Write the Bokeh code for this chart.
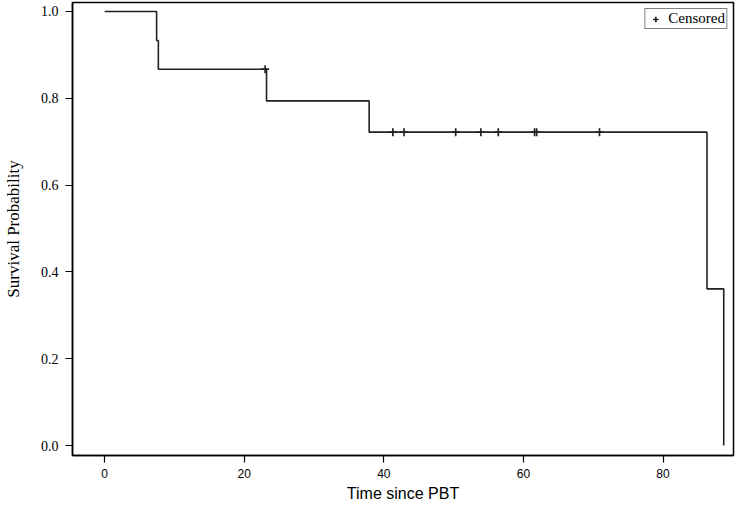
from bokeh.plotting import figure
from bokeh.models import FixedTicker, Range1d, Legend, LegendItem, PrintfTickFormatter
from bokeh.embed import file_html
from bokeh.resources import INLINE

# Kaplan-Meier step curve (time, survival probability)
step_times = [0.0, 7.45, 7.7, 23.2, 37.9, 86.3, 88.7]
step_surv = [1.0, 0.933, 0.867, 0.794, 0.722, 0.361, 0.0]

# Censored observations
cens_times = [23.0, 41.3, 42.9, 50.3, 53.9, 56.4, 61.6, 61.9, 70.9]
cens_surv = [0.867, 0.722, 0.722, 0.722, 0.722, 0.722, 0.722, 0.722, 0.722]

x_ticks = [0, 20, 40, 60, 80]
y_ticks = [0.0, 0.2, 0.4, 0.6, 0.8, 1.0]

p = figure(frame_width=661, frame_height=453, output_backend="svg", toolbar_location=None,
           x_range=Range1d(-4.6, 90.1), y_range=Range1d(-0.023, 1.0207),
           min_border_left=68, min_border_right=2, min_border_top=2, min_border_bottom=50)

line_col = "#222222"
p.step(step_times, step_surv, mode="after", line_color=line_col, line_width=1.6)
cr = p.scatter(cens_times, cens_surv, marker="cross", size=8, line_color=line_col, line_width=1.7)

p.grid.visible = False
p.background_fill_color = "white"
p.border_fill_color = "white"
p.outline_line_color = "black"
p.outline_line_width = 1.5

xa = p.xaxis[0]
xa.ticker = FixedTicker(ticks=x_ticks)
xa.axis_label = "Time since PBT"
xa.axis_label_text_font = "Liberation Sans"
xa.axis_label_text_font_size = "16px"
xa.axis_label_text_font_style = "normal"
xa.axis_label_text_color = "black"
xa.axis_label_standoff = 4
xa.major_label_text_font = "Liberation Sans"
xa.major_label_text_font_size = "12px"
xa.major_label_text_color = "black"
xa.major_label_standoff = 6
xa.major_tick_out = 7
xa.major_tick_in = 0
xa.minor_tick_out = 0
xa.minor_tick_in = 0
xa.axis_line_color = "black"
xa.axis_line_width = 1.5
xa.major_tick_line_color = "black"
xa.major_tick_line_width = 1.2

ya = p.yaxis[0]
ya.ticker = FixedTicker(ticks=y_ticks)
ya.formatter = PrintfTickFormatter(format="%.1f")
ya.axis_label = "Survival Probability"
ya.axis_label_text_font = "Liberation Serif"
ya.axis_label_text_font_size = "17px"
ya.axis_label_text_font_style = "normal"
ya.axis_label_text_color = "black"
ya.axis_label_standoff = 15
ya.major_label_text_font = "Liberation Serif"
ya.major_label_text_font_size = "14px"
ya.major_label_text_color = "black"
ya.major_label_standoff = 7
ya.major_tick_out = 7
ya.major_tick_in = 0
ya.minor_tick_out = 0
ya.minor_tick_in = 0
ya.axis_line_color = "black"
ya.axis_line_width = 1.5
ya.major_tick_line_color = "black"
ya.major_tick_line_width = 1.2

legend = Legend(items=[LegendItem(label="Censored", renderers=[cr])],
                location="top_right")
legend.label_text_font = "Liberation Serif"
legend.label_text_font_size = "15px"
legend.label_text_color = "black"
legend.label_standoff = 4
legend.glyph_width = 18
legend.glyph_height = 14
legend.padding = 1
legend.margin = 6
legend.spacing = 0
legend.border_line_color = "black"
legend.border_line_width = 1.2
legend.background_fill_alpha = 1.0
p.add_layout(legend)

open("out.html", "w").write(file_html(p, INLINE))
